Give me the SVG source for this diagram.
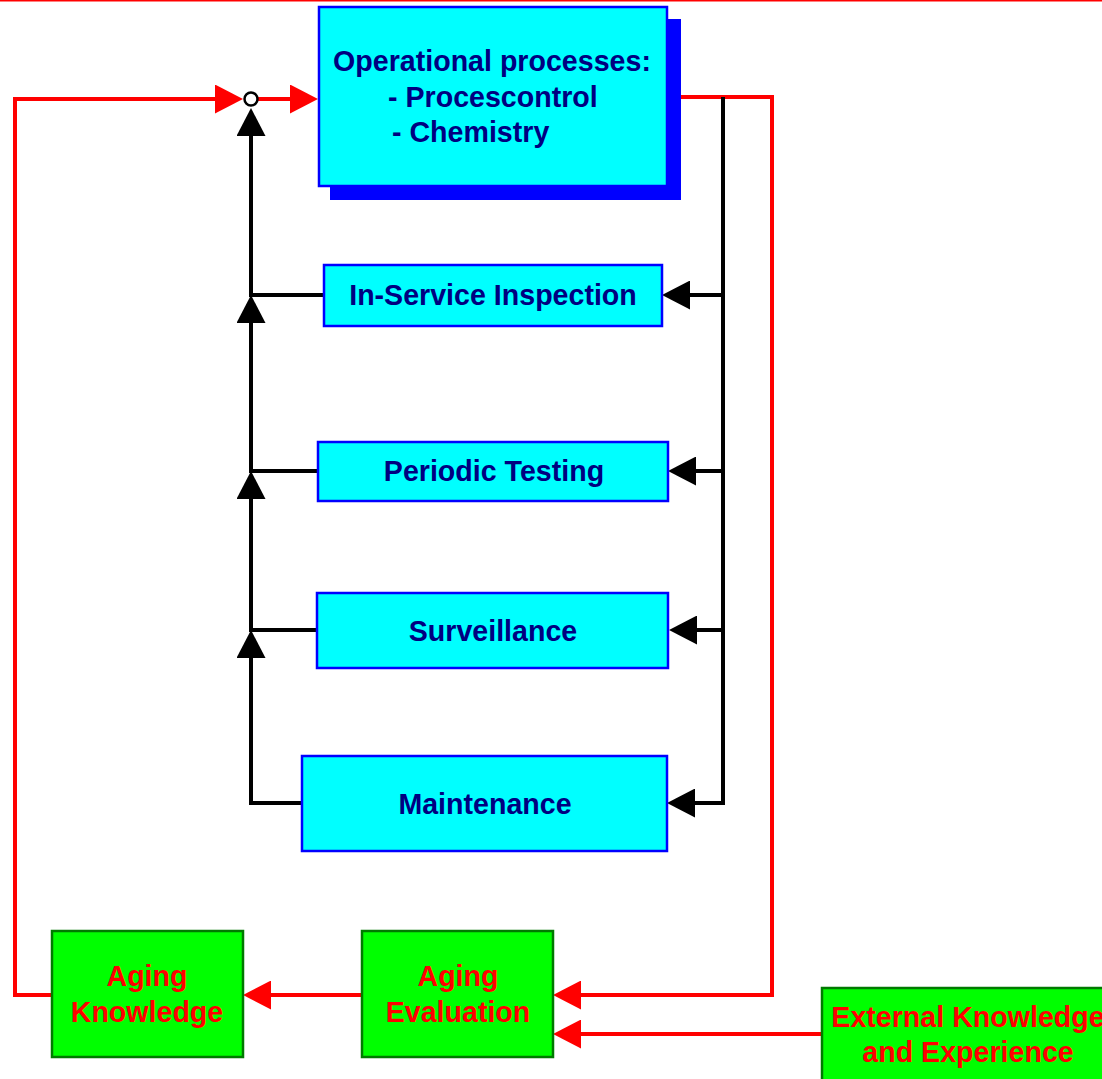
<svg xmlns="http://www.w3.org/2000/svg" width="1102" height="1079" viewBox="0 0 1102 1079">
<style>
.blue rect.box{fill:#00ffff;stroke:#0000ff;stroke-width:2.5}
.green rect.box{fill:#00ff00;stroke:#007a00;stroke-width:2.5}
.t{font-family:"Liberation Sans",Arial,sans-serif;font-weight:bold;font-size:28.6px}
.blue .t{fill:#000080}
.green .t{fill:#ff0000}
.bk{fill:none;stroke:#000;stroke-width:4;marker-end:url(#ab)}
.rd{fill:none;stroke:#ff0000;stroke-width:4;marker-end:url(#ar)}
</style>
<defs>
<marker id="ab" markerUnits="userSpaceOnUse" markerWidth="28" markerHeight="29" refX="24" refY="14.5" orient="auto"><path d="M0,0 L28,14.5 L0,29 Z" fill="#000"/></marker>
<marker id="ar" markerUnits="userSpaceOnUse" markerWidth="28" markerHeight="29" refX="24" refY="14.5" orient="auto"><path d="M0,0 L28,14.5 L0,29 Z" fill="#ff0000"/></marker>
</defs>
<rect x="0" y="0" width="1102" height="1079" fill="#fff"/>
<line x1="0" y1="0.5" x2="1102" y2="0.5" stroke="#ff0000" stroke-width="2"/>
<g id="connectors">
<path class="rd" d="M52 995 L15 995 L15 99 L239 99"/>
<path class="rd" d="M258 99 L314 99"/>
<path class="rd" d="M681 97 L772 97 L772 995 L557 995"/>
<path class="rd" d="M362 995 L247 995"/>
<path class="rd" d="M822 1034 L557 1034"/>
<path class="bk" d="M302 803 L251 803 L251 634"/>
<path class="bk" d="M317 630 L251 630 L251 475"/>
<path class="bk" d="M318 471 L251 471 L251 299"/>
<path class="bk" d="M324 295 L251 295 L251 112"/>
<path class="bk" d="M723 97 L723 803 L671 803"/>
<path class="bk" d="M723 295 L666 295"/>
<path class="bk" d="M723 471 L672 471"/>
<path class="bk" d="M723 630 L673 630"/>
<circle cx="251" cy="99" r="6.5" fill="#fff" stroke="#000" stroke-width="2.5"/>
</g>
<g id="operational" class="blue">
<rect x="330" y="19" width="351" height="181" fill="#0000ff"/>
<rect class="box" x="319" y="7" width="348" height="179"/>
<text class="t" x="492" y="71" text-anchor="middle">Operational processes:</text>
<text class="t" x="388" y="107">- Procescontrol</text>
<text class="t" x="392" y="142">- Chemistry</text>
</g>
<g id="isi" class="blue">
<rect class="box" x="324" y="265" width="338" height="61"/>
<text class="t" x="493" y="305" text-anchor="middle">In-Service Inspection</text>
</g>
<g id="periodic" class="blue">
<rect class="box" x="318" y="442" width="350" height="59"/>
<text class="t" x="494" y="481" text-anchor="middle">Periodic Testing</text>
</g>
<g id="surveillance" class="blue">
<rect class="box" x="317" y="593" width="351" height="75"/>
<text class="t" x="493" y="641" text-anchor="middle">Surveillance</text>
</g>
<g id="maintenance" class="blue">
<rect class="box" x="302" y="756" width="365" height="95"/>
<text class="t" x="485" y="814" text-anchor="middle">Maintenance</text>
</g>
<g id="aging-knowledge" class="green">
<rect class="box" x="52" y="931" width="191" height="126"/>
<text class="t" x="147" y="986" text-anchor="middle">Aging</text>
<text class="t" x="147" y="1022" text-anchor="middle">Knowledge</text>
</g>
<g id="aging-evaluation" class="green">
<rect class="box" x="362" y="931" width="191" height="126"/>
<text class="t" x="458" y="986" text-anchor="middle">Aging</text>
<text class="t" x="458" y="1022" text-anchor="middle">Evaluation</text>
</g>
<g id="external" class="green">
<rect class="box" x="822" y="988" width="292" height="100"/>
<text class="t" x="968" y="1027" text-anchor="middle">External Knowledge</text>
<text class="t" x="968" y="1062" text-anchor="middle">and Experience</text>
</g>
</svg>
